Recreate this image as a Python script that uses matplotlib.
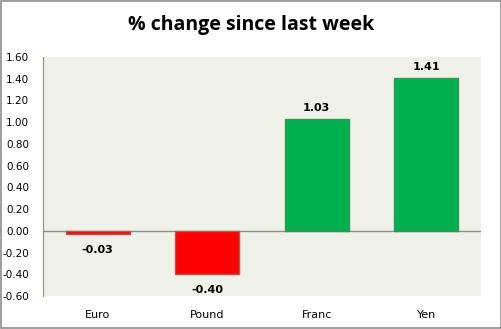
import matplotlib.pyplot as plt
from matplotlib.patches import Rectangle

categories = ["Euro", "Pound", "Franc", "Yen"]
values = [-0.03, -0.40, 1.03, 1.41]
labels = ["-0.03", "-0.40", "1.03", "1.41"]
bar_colors = ["#FF0000", "#FF0000", "#00B050", "#00B050"]
edge_colors = ["#C0504D", "#C0504D", "#2E9A4E", "#2E9A4E"]
yticks = [-0.6, -0.4, -0.2, 0.0, 0.2, 0.4, 0.6, 0.8, 1.0, 1.2, 1.4, 1.6]

fig = plt.figure(figsize=(5.02, 3.29), dpi=100)
ax = fig.add_axes([43/502, 1-296/329, (481-43)/502, (296-57)/329])
ax.set_facecolor("#EFF0E8")

x = range(len(categories))
ax.bar(x, values, width=0.58, color=bar_colors, edgecolor=edge_colors, linewidth=1, zorder=3)
ax.axhline(0, color="#8C8C8C", linewidth=1, zorder=2)

for xi, v, t in zip(x, values, labels):
    if v >= 0:
        ax.text(xi, v + 0.05, t, ha="center", va="bottom", fontsize=8, fontweight="bold")
    else:
        ax.text(xi, v - 0.1, t, ha="center", va="top", fontsize=8, fontweight="bold")

ax.set_xlim(-0.5, 3.5)
ax.set_ylim(-0.6, 1.6)
ax.set_yticks(yticks)
ax.set_yticklabels(["%.2f" % t for t in yticks], fontsize=7.5)
ax.set_xticks(list(x))
ax.set_xticklabels(categories, fontsize=8)
ax.tick_params(axis="x", length=0, pad=10)
ax.tick_params(axis="y", length=0, pad=10)
for s in ["top", "right", "bottom"]:
    ax.spines[s].set_visible(False)
ax.spines["left"].set_color("#8C8C8C")

fig.text(0.5, 1-25/329, "% change since last week", ha="center", va="center",
         fontsize=14, fontweight="bold", family="Open Sans")

fig.patches.append(Rectangle((0.002, 0.003), 0.996, 0.994, transform=fig.transFigure,
                             fill=False, edgecolor="#8C8C8C", linewidth=1.2))

fig.savefig("out.png", dpi=100)
